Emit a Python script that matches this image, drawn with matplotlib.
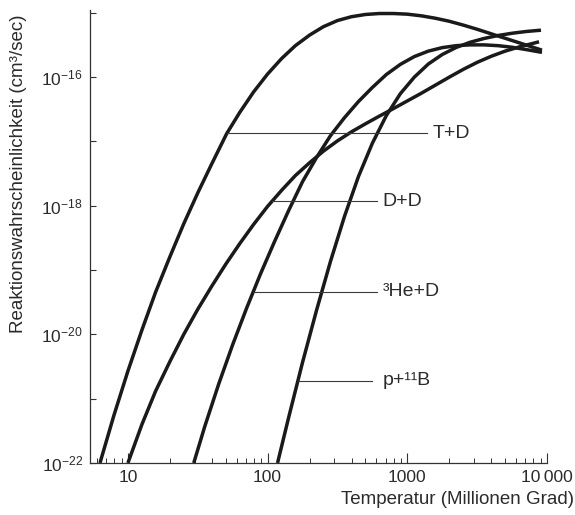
import numpy as np
import matplotlib
matplotlib.use("Agg")
import matplotlib.pyplot as plt
from matplotlib.ticker import FixedLocator, FixedFormatter, NullFormatter

plt.rcParams['font.family'] = ['Liberation Sans', 'DejaVu Sans']
plt.rcParams['mathtext.fontset'] = 'custom'
plt.rcParams['mathtext.rm'] = 'Liberation Sans'
plt.rcParams['mathtext.it'] = 'Liberation Sans:italic'

# ---- data (T in million degrees, reactivity in cm^3/s) ----
T_TD = [6.31, 7.94, 10.0, 12.6, 15.8, 20.0, 25.1, 31.6, 39.8, 50.9, 63.1, 79.4, 100,
        126, 158, 200, 251, 316, 398, 501, 631, 794, 1000, 1259, 1585, 1995, 2512,
        3162, 3981, 5012, 6310, 9204]
S_TD = [1.0e-22, 5.5e-22, 2.69e-21, 1.17e-20, 4.57e-20, 1.62e-19, 5.25e-19, 1.58e-18,
        4.47e-18, 1.32e-17, 2.82e-17, 5.9e-17, 1.12e-16, 1.95e-16, 3.09e-16, 4.52e-16,
        6.1e-16, 7.59e-16, 8.71e-16, 9.44e-16, 9.77e-16, 9.77e-16, 9.55e-16, 9.0e-16,
        8.26e-16, 7.41e-16, 6.46e-16, 5.56e-16, 4.73e-16, 4.03e-16, 3.43e-16, 2.63e-16]

T_DD = [10.0, 12.6, 15.8, 20.0, 25.1, 31.6, 39.8, 50.1, 63.1, 79.4, 100, 126, 158,
        200, 251, 316, 398, 501, 631, 794, 1000, 1259, 1585, 1995, 2512, 3162, 3981,
        5012, 6310, 8770]
S_DD = [1.0e-22, 3.98e-22, 1.32e-21, 3.8e-21, 1.0e-20, 2.45e-20, 5.6e-20, 1.23e-19,
        2.57e-19, 5.13e-19, 9.8e-19, 1.74e-18, 2.95e-18, 4.68e-18, 7.08e-18, 1.02e-17,
        1.41e-17, 1.88e-17, 2.48e-17, 3.24e-17, 4.27e-17, 5.62e-17, 7.5e-17, 1.0e-16,
        1.32e-16, 1.70e-16, 2.11e-16, 2.54e-16, 2.95e-16, 3.55e-16]

T_HeD = [29.6, 35.5, 44.7, 56.2, 70.8, 89.1, 112.2, 141.3, 177.8, 223.9, 281.8, 354.8,
         446.7, 562.3, 707.9, 891.3, 1122, 1413, 1778, 2239, 2818, 3548, 4467, 5623,
         7079, 9204]
S_HeD = [1.0e-22, 3.7e-22, 1.70e-21, 6.9e-21, 2.57e-20, 8.8e-20, 2.79e-19, 8.4e-19,
         2.37e-18, 5.62e-18, 1.23e-17, 2.34e-17, 4.17e-17, 6.92e-17, 1.10e-16, 1.58e-16,
         2.09e-16, 2.54e-16, 2.88e-16, 3.09e-16, 3.18e-16, 3.18e-16, 3.09e-16, 2.92e-16,
         2.69e-16, 2.43e-16]

T_pB = [117.8, 141.3, 177.8, 223.9, 281.8, 354.8, 446.7, 562.3, 707.9, 891.3, 1122,
        1413, 1778, 2239, 2818, 3548, 4467, 5623, 7079, 9057]
S_pB = [1.0e-22, 5.05e-22, 3.66e-21, 2.36e-20, 1.36e-19, 6.8e-19, 2.84e-18, 9.4e-18,
        2.53e-17, 5.53e-17, 1.0e-16, 1.60e-16, 2.25e-16, 2.90e-16, 3.49e-16, 4.0e-16,
        4.45e-16, 4.82e-16, 5.13e-16, 5.38e-16]

curves = [(T_TD, S_TD), (T_DD, S_DD), (T_HeD, S_HeD), (T_pB, S_pB)]
labels = ['T+D', 'D+D', '\u00b3He+D', 'p+\u00b9\u00b9B']
label_y = [1.35e-17, 1.17e-18, 4.6e-20, 1.9e-21]
leader_end_T = [1390, 611, 611, 562]
text_T = [1510, 663, 663, 663]

x_ticks = [10, 100, 1000, 10000]
x_ticklabels = ['10', '100', '1000', '10\u2009000']
y_ticks = [1e-22, 1e-21, 1e-20, 1e-19, 1e-18, 1e-17, 1e-16, 1e-15]
y_ticklabels = [r'$10^{-22}$', '', r'$10^{-20}$', '', r'$10^{-18}$', '', r'$10^{-16}$', '']

TEXT = '#2b2b2b'
LINE = '#1a1a1a'

fig = plt.figure(figsize=(5.75, 5.15), dpi=100)
ax = fig.add_axes([90 / 575, 52 / 515, 457 / 575, 452.7 / 515])
ax.set_xscale('log')
ax.set_yscale('log')
ax.set_xlim(5.354, 10000)
ax.set_ylim(1e-22, 10 ** -14.96)

for T, S in curves:
    ax.plot(T, S, color=LINE, lw=2.5, solid_capstyle='butt', solid_joinstyle='round')


def x_on_curve(T, S, y):
    S = np.asarray(S)
    k = int(np.argmax(S)) + 1
    return 10 ** np.interp(np.log10(y), np.log10(S[:k]), np.log10(np.asarray(T)[:k]))


for (T, S), lab, y, xe, xt in zip(curves, labels, label_y, leader_end_T, text_T):
    xs = x_on_curve(T, S, y)
    ax.plot([xs, xe], [y, y], color='#3a3a3a', lw=0.8)
    ax.text(xt, y, lab, fontsize=14, color=TEXT, ha='left', va='center')

for s in ['top', 'right']:
    ax.spines[s].set_visible(False)
for s in ['left', 'bottom']:
    ax.spines[s].set_color('#333333')
    ax.spines[s].set_linewidth(0.9)

ax.xaxis.set_major_locator(FixedLocator(x_ticks))
ax.xaxis.set_major_formatter(FixedFormatter(x_ticklabels))
minor = [m * 10 ** e for e in range(0, 4) for m in range(2, 10) if 5.354 <= m * 10 ** e <= 10000]
ax.xaxis.set_minor_locator(FixedLocator(minor))
ax.xaxis.set_minor_formatter(NullFormatter())
ax.yaxis.set_major_locator(FixedLocator(y_ticks))
ax.yaxis.set_major_formatter(FixedFormatter(y_ticklabels))
ax.yaxis.set_minor_locator(FixedLocator([]))

ax.tick_params(axis='x', which='major', direction='in', length=7, width=0.8,
               color='#333333', labelsize=12.5, labelcolor=TEXT, pad=5)
ax.tick_params(axis='x', which='minor', direction='in', length=3.5, width=0.7,
               color='#333333')
ax.tick_params(axis='y', which='major', direction='in', length=4, width=0.8,
               color='#333333', labelsize=12.5, labelcolor=TEXT, pad=5)

fig.text(574 / 575, (515 - 500) / 515, 'Temperatur (Millionen Grad)', fontsize=13.5,
         color=TEXT, ha='right', va='center')
fig.text(19 / 575, (515 - 174) / 515, 'Reaktionswahrscheinlichkeit (cm\u00b3/sec)',
         fontsize=13.5, color=TEXT, ha='center', va='center', rotation=90)

fig.savefig('out.png', dpi=100, facecolor='white')
